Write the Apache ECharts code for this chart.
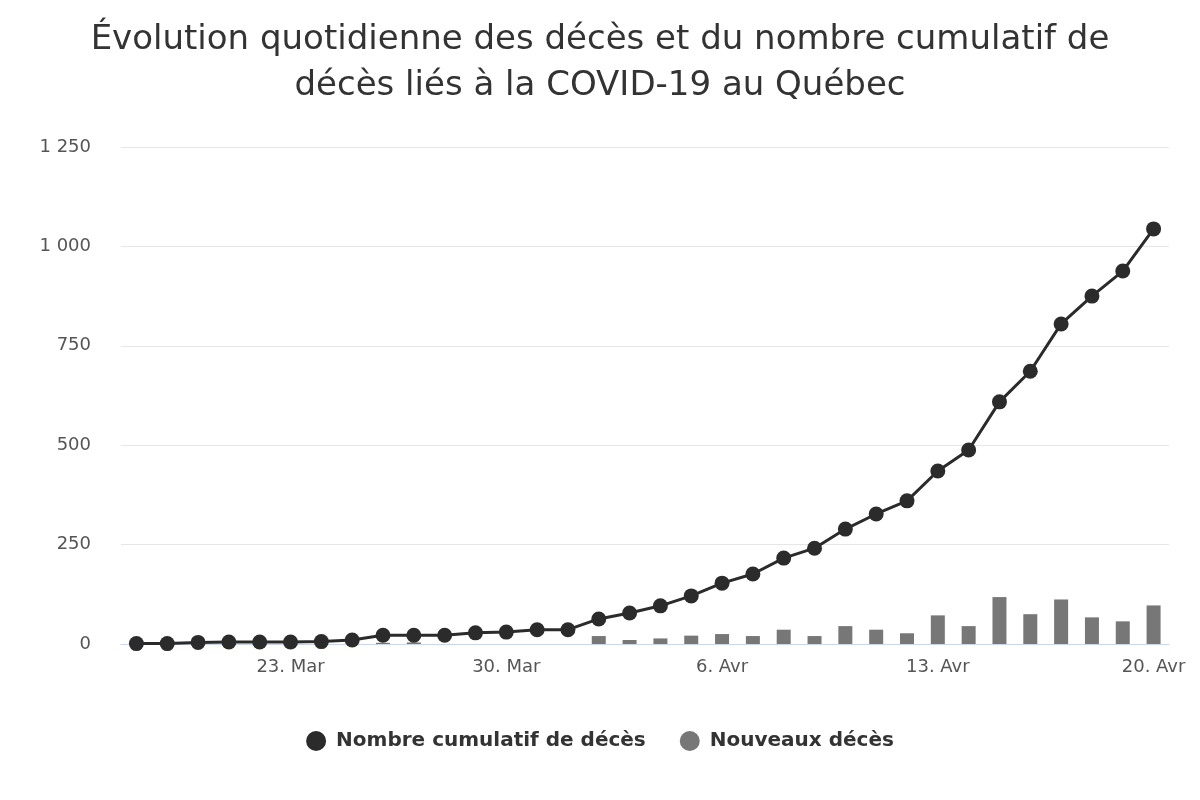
<!DOCTYPE html><html><head><meta charset="utf-8"><script src="https://cdn.jsdelivr.net/npm/echarts@6/dist/echarts.min.js"></script></head><body style="margin:0"><div id="c" style="width:1200px;height:800px"></div><script>
const dates=['18. Mar','19. Mar','20. Mar','21. Mar','22. Mar','23. Mar','24. Mar','25. Mar','26. Mar','27. Mar','28. Mar','29. Mar','30. Mar','31. Mar','1. Avr','2. Avr','3. Avr','4. Avr','5. Avr','6. Avr','7. Avr','8. Avr','9. Avr','10. Avr','11. Avr','12. Avr','13. Avr','14. Avr','15. Avr','16. Avr','17. Avr','18. Avr','19. Avr','20. Avr'];
const cumulative=[1,1,4,5,5,5,6,10,22,22,22,28,30,36,36,63,78,96,121,153,176,216,241,289,327,360,435,488,609,686,805,875,938,1044];
const newDeaths=[0,0,0,0,0,0,0,0,3,4,0,0,0,0,0,20,10,14,21,25,20,36,20,45,36,27,72,45,118,75,112,67,57,97];
const shown=[5,12,19,26,33];
const fmt=v=>String(v).replace(/\B(?=(\d{3})+(?!\d))/g,' ');
const ch=echarts.init(document.getElementById('c'));
ch.setOption({
 title:{text:'Évolution quotidienne des décès et du nombre cumulatif de\ndécès liés à la COVID-19 au Québec',left:'center',top:12,textStyle:{fontSize:34,fontWeight:'normal',color:'#333',lineHeight:46,fontFamily:'DejaVu Sans'}},
 legend:{bottom:44,itemGap:34,textStyle:{fontSize:20,fontWeight:'bold',color:'#333',fontFamily:'DejaVu Sans'},data:[{name:'Nombre cumulatif de décès',icon:'path://M0,5L10,5M5,0A5,5 0 1 1 5,10A5,5 0 1 1 5,0',itemStyle:{color:'#2b2b2b'}},{name:'Nouveaux décès',icon:'circle'}],itemWidth:30,itemHeight:20},
 grid:{left:121,right:31,top:147,bottom:156},
 xAxis:{type:'category',data:dates,boundaryGap:true,axisLine:{lineStyle:{color:'#ccd6eb'}},axisTick:{alignWithLabel:true,interval:i=>shown.includes(i),length:10,lineStyle:{color:'#ccd6eb'}},axisLabel:{interval:i=>shown.includes(i),fontSize:18,color:'#555',margin:14,fontFamily:'DejaVu Sans'}},
 yAxis:{type:'value',min:0,max:1250,interval:250,axisLabel:{formatter:fmt,fontSize:18,color:'#555',margin:30,fontFamily:'DejaVu Sans'},splitLine:{lineStyle:{color:'#e6e6e6'}}},
 series:[
  {name:'Nouveaux décès',type:'bar',data:newDeaths,barWidth:14,itemStyle:{color:'#777'},z:1},
  {name:'Nombre cumulatif de décès',type:'line',data:cumulative,symbol:'circle',symbolSize:15,lineStyle:{color:'#2b2b2b',width:3},itemStyle:{color:'#2b2b2b'},z:3}
 ]
});
</script></body></html>
